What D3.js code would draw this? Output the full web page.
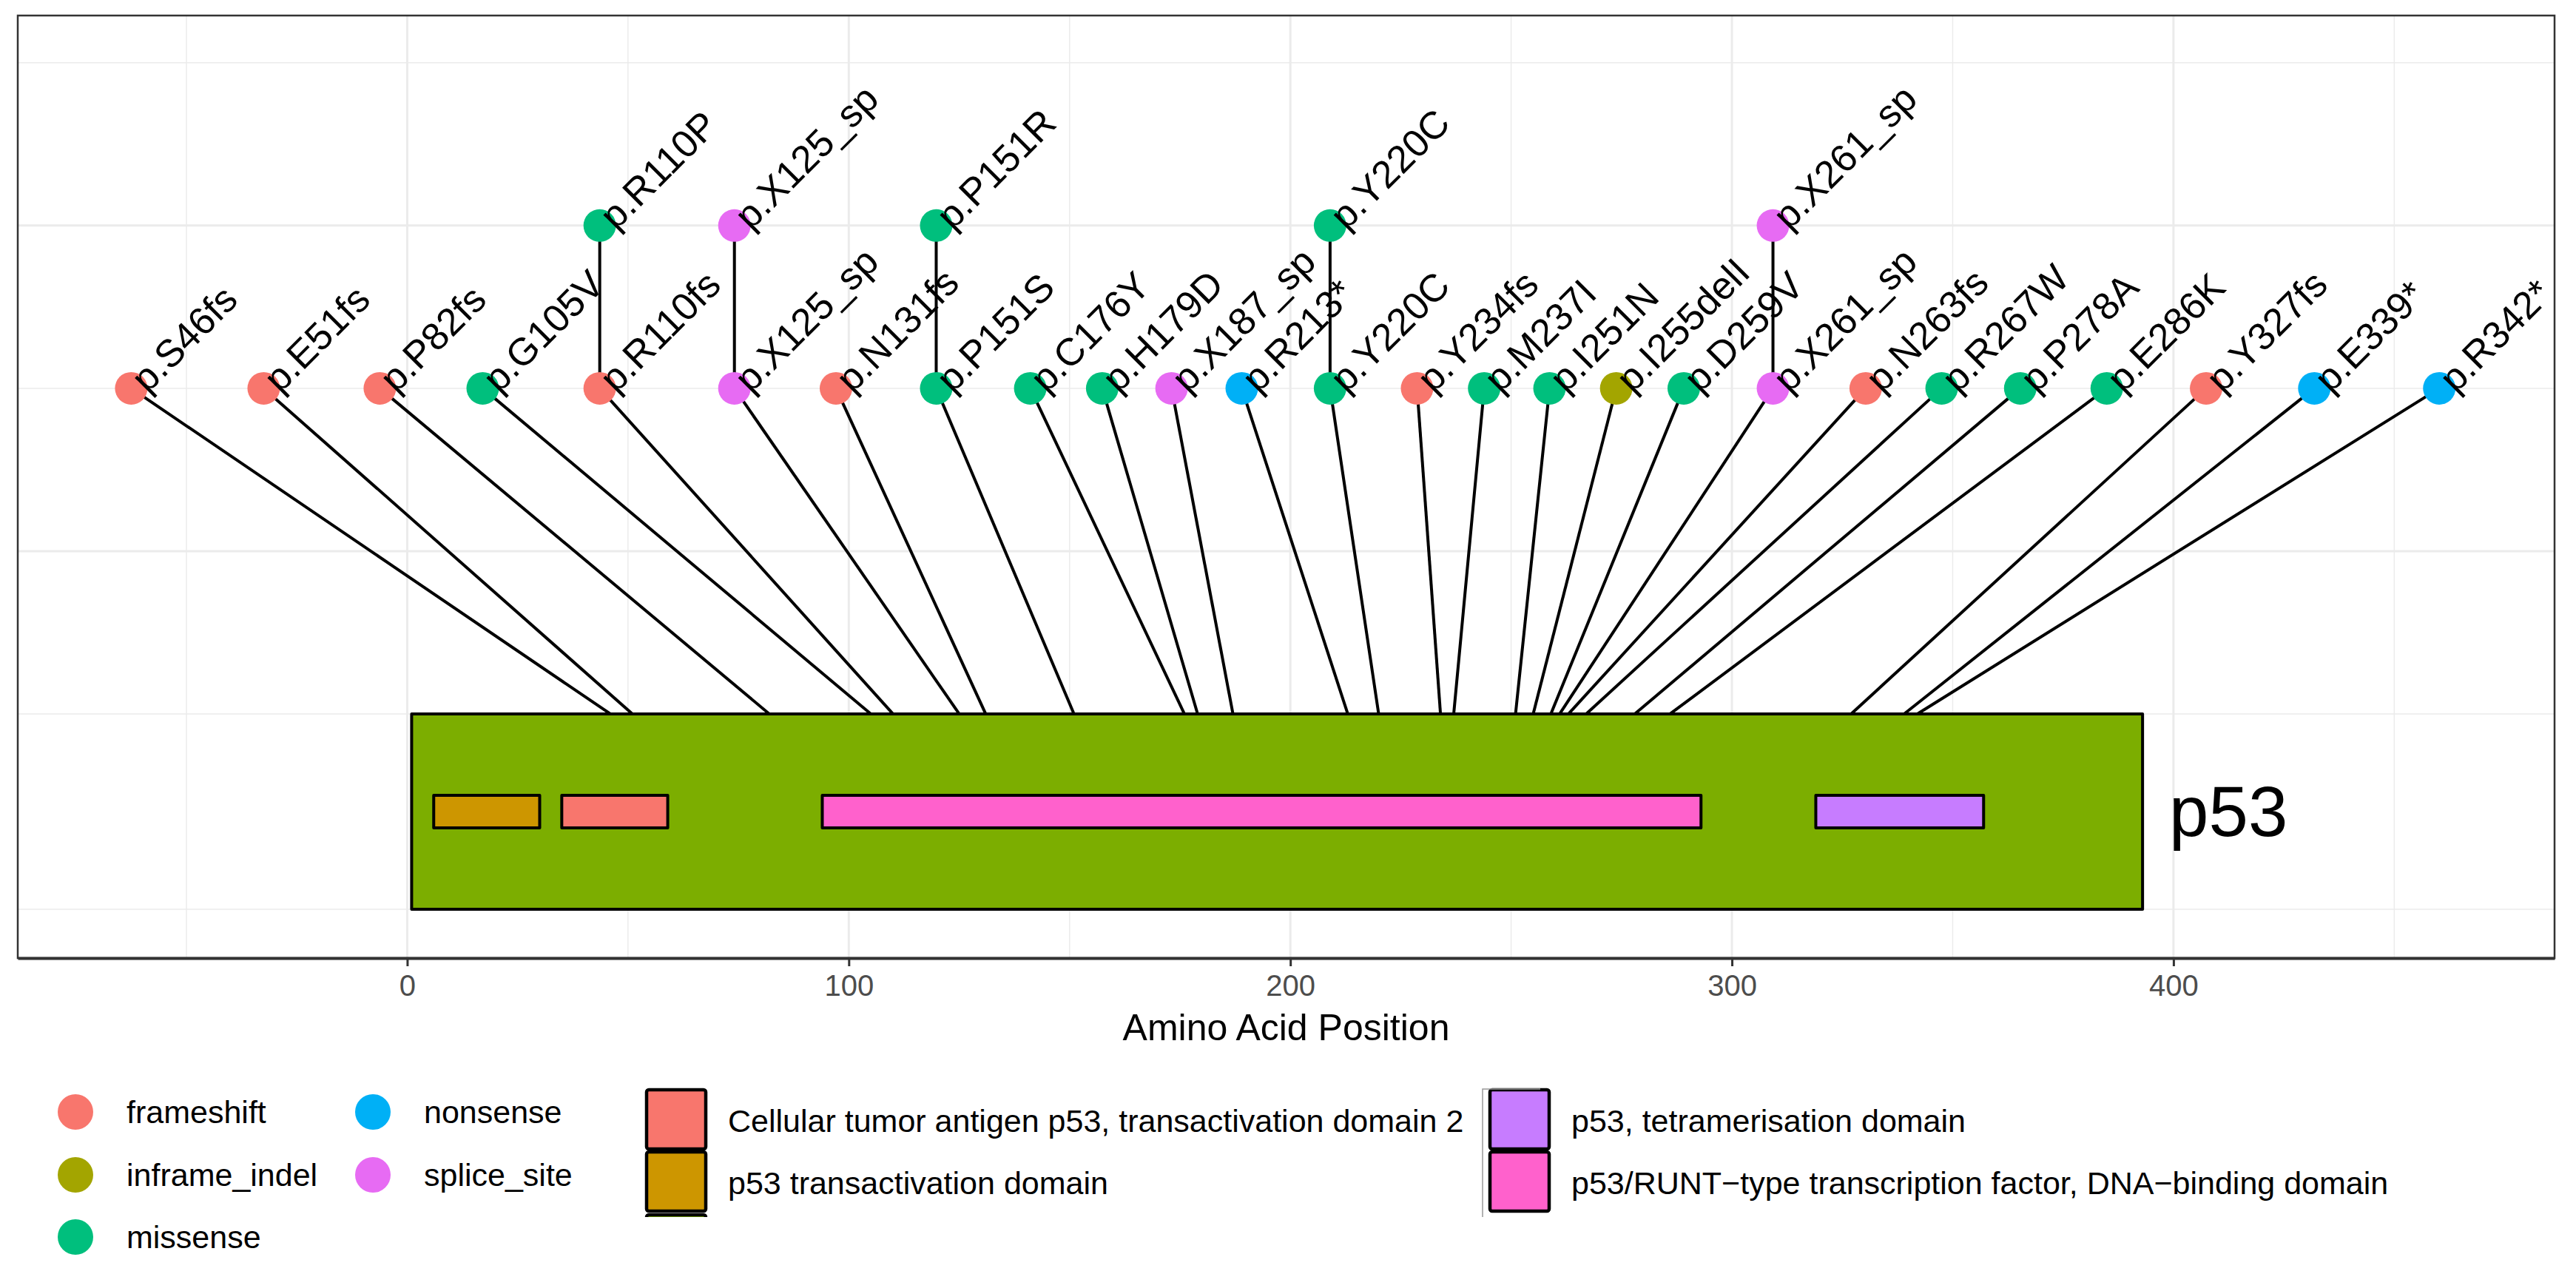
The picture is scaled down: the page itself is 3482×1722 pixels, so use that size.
<!DOCTYPE html>
<html>
<head>
<meta charset="utf-8">
<script src="https://cdn.jsdelivr.net/npm/d3@7"></script>
<style>
  body { margin: 0; background: #fff; }
  text { font-family: "Liberation Sans", Arial, sans-serif; }
</style>
</head>
<body>
<svg id="chart"></svg>
<script>
// mutation types and colours (ggplot hue palette)
const mutTypes = ["frameshift", "inframe_indel", "missense", "nonsense", "splice_site"];
const mutColors = ["#F8766D", "#A3A500", "#00BF7D", "#00B0F6", "#E76BF3"];

// lower row of lollipops: label, real amino acid position, label position, type
const lowLabels = ["p.S46fs","p.E51fs","p.P82fs","p.G105V","p.R110fs","p.X125_sp","p.N131fs","p.P151S",
  "p.C176Y","p.H179D","p.X187_sp","p.R213*","p.Y220C","p.Y234fs","p.M237I","p.I251N","p.I255delI",
  "p.D259V","p.X261_sp","p.N263fs","p.R267W","p.P278A","p.E286K","p.Y327fs","p.E339*","p.R342*"];
const lowAA = [46,51,82,105,110,125,131,151,176,179,187,213,220,234,237,251,255,259,261,263,267,278,286,327,339,342];
const lowX = [-62.5,-32.5,-6.2,17.1,43.6,74.1,97.1,119.8,141.1,157.4,173.1,189.0,209.0,228.7,243.9,
  258.7,273.8,289.1,309.3,330.3,347.5,365.3,384.9,407.4,431.9,460.2];
const lowType = ["frameshift","frameshift","frameshift","missense","frameshift","splice_site","frameshift",
  "missense","missense","missense","splice_site","nonsense","missense","frameshift","missense","missense",
  "inframe_indel","missense","splice_site","frameshift","missense","missense","missense","frameshift",
  "nonsense","nonsense"];
const lowHeight = 1;

// stacked second row
const upLabels = ["p.R110P","p.X125_sp","p.P151R","p.Y220C","p.X261_sp"];
const upX = [43.6, 74.1, 119.8, 209.0, 309.3];
const upType = ["missense","splice_site","missense","missense","splice_site"];
const upHeight = 1.5;

// protein and domains
const proteinName = "p53";
const proteinStart = 1, proteinEnd = 393;
const proteinColor = "#7CAE00";
const domainNames = ["p53 transactivation domain",
  "Cellular tumor antigen p53, transactivation domain 2",
  "p53/RUNT\u2212type transcription factor, DNA\u2212binding domain",
  "p53, tetramerisation domain"];
const domainStart = [6, 35, 94, 319];
const domainEnd = [30, 59, 293, 357];
const domainColors = ["#CD9600", "#F8766D", "#FF61CC", "#C77CFF"];

const xTicks = [0, 100, 200, 300, 400];
const yMajor = [0.5, 1.5];
const yMinor = [-0.6, 0, 1, 2];

const W = 3482, H = 1722;
const panel = { left: 24, right: 3453, top: 21, bottom: 1295 };

const svg = d3.select("#chart").attr("width", W).attr("height", H);
svg.append("rect").attr("width", W).attr("height", H).attr("fill", "#fff");

const x = d3.scaleLinear().domain([-88.2, 486.3]).range([panel.left, panel.right]);
const y = d3.scaleLinear().domain([-0.75, 2.145]).range([panel.bottom, panel.top]);
const color = d3.scaleOrdinal().domain(mutTypes).range(mutColors);

svg.append("clipPath").attr("id", "clip").append("rect")
  .attr("x", panel.left).attr("y", panel.top)
  .attr("width", panel.right - panel.left).attr("height", panel.bottom - panel.top);

const plot = svg.append("g").attr("clip-path", "url(#clip)");

// grid
const xMinor = xTicks.map(d => d - 50).concat([xTicks[xTicks.length - 1] + 50]);
plot.selectAll(".xminor").data(xMinor).enter().append("line")
  .attr("x1", d => x(d)).attr("x2", d => x(d)).attr("y1", panel.top).attr("y2", panel.bottom)
  .attr("stroke", "#EBEBEB").attr("stroke-width", 1.5);
plot.selectAll(".yminor").data(yMinor).enter().append("line")
  .attr("x1", panel.left).attr("x2", panel.right).attr("y1", d => y(d)).attr("y2", d => y(d))
  .attr("stroke", "#EBEBEB").attr("stroke-width", 1.5);
plot.selectAll(".xmajor").data(xTicks).enter().append("line")
  .attr("x1", d => x(d)).attr("x2", d => x(d)).attr("y1", panel.top).attr("y2", panel.bottom)
  .attr("stroke", "#EBEBEB").attr("stroke-width", 3);
plot.selectAll(".ymajor").data(yMajor).enter().append("line")
  .attr("x1", panel.left).attr("x2", panel.right).attr("y1", d => y(d)).attr("y2", d => y(d))
  .attr("stroke", "#EBEBEB").attr("stroke-width", 3);

const low = lowLabels.map((l, i) => ({ label: l, aa: lowAA[i], x: lowX[i], type: lowType[i], h: lowHeight }));
const up = upLabels.map((l, i) => ({ label: l, x: upX[i], type: upType[i], h: upHeight }));

// stems
plot.selectAll(".stem").data(low).enter().append("line")
  .attr("x1", d => x(d.x)).attr("y1", d => y(d.h))
  .attr("x2", d => x(d.aa)).attr("y2", y(0))
  .attr("stroke", "#000").attr("stroke-width", 4);
plot.selectAll(".stem2").data(up).enter().append("line")
  .attr("x1", d => x(d.x)).attr("y1", d => y(d.h))
  .attr("x2", d => x(d.x)).attr("y2", y(lowHeight))
  .attr("stroke", "#000").attr("stroke-width", 4);

// protein body and domains
plot.append("rect")
  .attr("x", x(proteinStart)).attr("y", y(0))
  .attr("width", x(proteinEnd) - x(proteinStart)).attr("height", y(-0.6) - y(0))
  .attr("fill", proteinColor).attr("stroke", "#000").attr("stroke-width", 4)
  .attr("stroke-linejoin", "round");
plot.selectAll(".dom").data(domainNames).enter().append("rect")
  .attr("x", (d, i) => x(domainStart[i])).attr("y", y(-0.25))
  .attr("width", (d, i) => x(domainEnd[i]) - x(domainStart[i]))
  .attr("height", y(-0.35) - y(-0.25))
  .attr("fill", (d, i) => domainColors[i]).attr("stroke", "#000").attr("stroke-width", 4)
  .attr("stroke-linejoin", "round");

// points and labels
const all = low.concat(up);
plot.selectAll(".pt").data(all).enter().append("circle")
  .attr("cx", d => x(d.x)).attr("cy", d => y(d.h)).attr("r", 22)
  .attr("fill", d => color(d.type));
plot.selectAll(".lab").data(all).enter().append("text")
  .attr("transform", d => `translate(${x(d.x)},${y(d.h)}) rotate(-45)`)
  .attr("dx", 10).attr("dy", 3).attr("dominant-baseline", "central")
  .attr("font-size", 52).attr("fill", "#000")
  .text(d => d.label);

plot.append("text")
  .attr("x", x(proteinEnd) + 36).attr("y", y(-0.3))
  .attr("dominant-baseline", "central").attr("font-size", 96)
  .text(proteinName);

// border and axis
svg.append("rect")
  .attr("x", panel.left).attr("y", panel.top)
  .attr("width", panel.right - panel.left).attr("height", panel.bottom - panel.top)
  .attr("fill", "none").attr("stroke", "#333333").attr("stroke-width", 2.5);

const xAxis = d3.axisBottom(x).tickValues(xTicks).tickSize(11).tickSizeOuter(0).tickPadding(12);
const gx = svg.append("g").attr("transform", `translate(0,${panel.bottom})`).call(xAxis);
gx.select(".domain").attr("stroke", "#333333").attr("stroke-width", 4);
gx.selectAll(".tick line").attr("stroke", "#333333").attr("stroke-width", 3);
gx.selectAll(".tick text").attr("font-size", 40).attr("fill", "#4D4D4D")
  .attr("font-family", "Liberation Sans, Arial, sans-serif");

svg.append("text")
  .attr("x", (panel.left + panel.right) / 2).attr("y", 1406)
  .attr("text-anchor", "middle").attr("font-size", 50)
  .text("Amino Acid Position");

// legend: mutation types (2 columns, filled by column)
const legRows = [1503, 1588, 1672];
const legCols = [102, 504];
const lg = svg.append("g");
mutTypes.forEach((t, i) => {
  const col = Math.floor(i / 3), row = i % 3;
  lg.append("circle").attr("cx", legCols[col]).attr("cy", legRows[row]).attr("r", 24)
    .attr("fill", color(t));
  lg.append("text").attr("x", legCols[col] + 69).attr("y", legRows[row])
    .attr("dominant-baseline", "central").attr("font-size", 43).text(t);
});

// legend: domains (clipped at the bottom like the original)
const domLegNames = [domainNames[1], domainNames[0], proteinName, domainNames[3], domainNames[2]];
const domLegColors = [domainColors[1], domainColors[0], proteinColor, domainColors[3], domainColors[2]];
svg.append("clipPath").attr("id", "legclip").append("rect")
  .attr("x", 800).attr("y", 1440).attr("width", 2600).attr("height", 205);
const dg = svg.append("g").attr("clip-path", "url(#legclip)");
const dRows = [1513, 1597, 1682];
const dCols = [874, 2014];
domLegNames.forEach((n, i) => {
  const col = Math.floor(i / 3), row = i % 3;
  dg.append("rect").attr("x", dCols[col]).attr("y", dRows[row] - 40)
    .attr("width", 80).attr("height", 80).attr("rx", 3)
    .attr("fill", domLegColors[i]).attr("stroke", "#000").attr("stroke-width", 4.5);
  dg.append("text").attr("x", dCols[col] + 110).attr("y", dRows[row] + 2)
    .attr("dominant-baseline", "central").attr("font-size", 43).text(n);
});
dg.append("path").attr("d", "M2082,1472 H2004 V1650")
  .attr("fill", "none").attr("stroke", "#999").attr("stroke-width", 1.5);
</script>
</body>
</html>
